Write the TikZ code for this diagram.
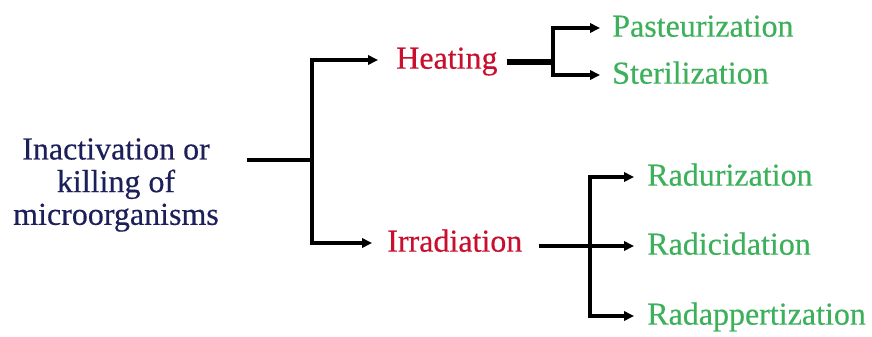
\documentclass[tikz,border=0pt]{standalone}
\usepackage{fontspec}
\setmainfont{Liberation Serif}[FakeBold=0.4]
\usetikzlibrary{arrows.meta}
\definecolor{navy}{RGB}{28,31,90}
\definecolor{redc}{RGB}{200,16,46}
\definecolor{greenc}{RGB}{60,176,90}
\begin{document}
\begin{tikzpicture}[x=0.75pt,y=-0.75pt,
  lbl/.style={inner sep=0pt,anchor=west,font=\fontsize{24}{25}\selectfont,text height=18pt,text depth=5pt},
  lvl1/.style={lbl,text=redc},
  lvl2/.style={lbl,text=greenc},
  conn/.style={line width=2.3pt,line cap=butt},
  arr/.style={conn,-{Triangle[length=7.5pt,width=7pt]}}]
\useasboundingbox (0,0) rectangle (872,336);
\node[inner sep=0pt,align=center,text=navy,font=\fontsize{24}{24.5}\selectfont] (main) at (116,185) {Inactivation or\\killing of\\microorganisms};
\node[lvl1] (heat) at (396,60) {Heating};
\node[lvl1] (irr) at (387,243) {Irradiation};
\node[lvl2] (past) at (612,28) {Pasteurization};
\node[lvl2] (ster) at (612,75) {Sterilization};
\node[lvl2] (radu) at (647,177) {Radurization};
\node[lvl2] (radi) at (647,246) {Radicidation};
\node[lvl2] (rada) at (647,316) {Radappertization};
\coordinate (j1) at (312,160);
\coordinate (j2) at (553,62);
\coordinate (j3) at (590,246);
\draw[conn] ([xshift=28*0.75pt]main.east |- j1) -- (j1);
\draw[arr] (j1) |- ([xshift=-18*0.75pt]heat.west);
\draw[arr] (j1) |- ([xshift=-15*0.75pt]irr.west);
\draw[line width=3.8pt] ([xshift=9*0.75pt]heat.east |- j2) -- (j2);
\draw[arr] (j2) |- ([xshift=-12*0.75pt]past.west);
\draw[arr] (j2) |- ([xshift=-12*0.75pt]ster.west);
\draw[conn] ([xshift=16*0.75pt]irr.east |- j3) -- (j3);
\draw[arr] (j3) -- ([xshift=-13*0.75pt]radi.west);
\draw[arr] (j3) |- ([xshift=-13*0.75pt]radu.west);
\draw[arr] (j3) |- ([xshift=-13*0.75pt]rada.west);
\end{tikzpicture}
\end{document}
